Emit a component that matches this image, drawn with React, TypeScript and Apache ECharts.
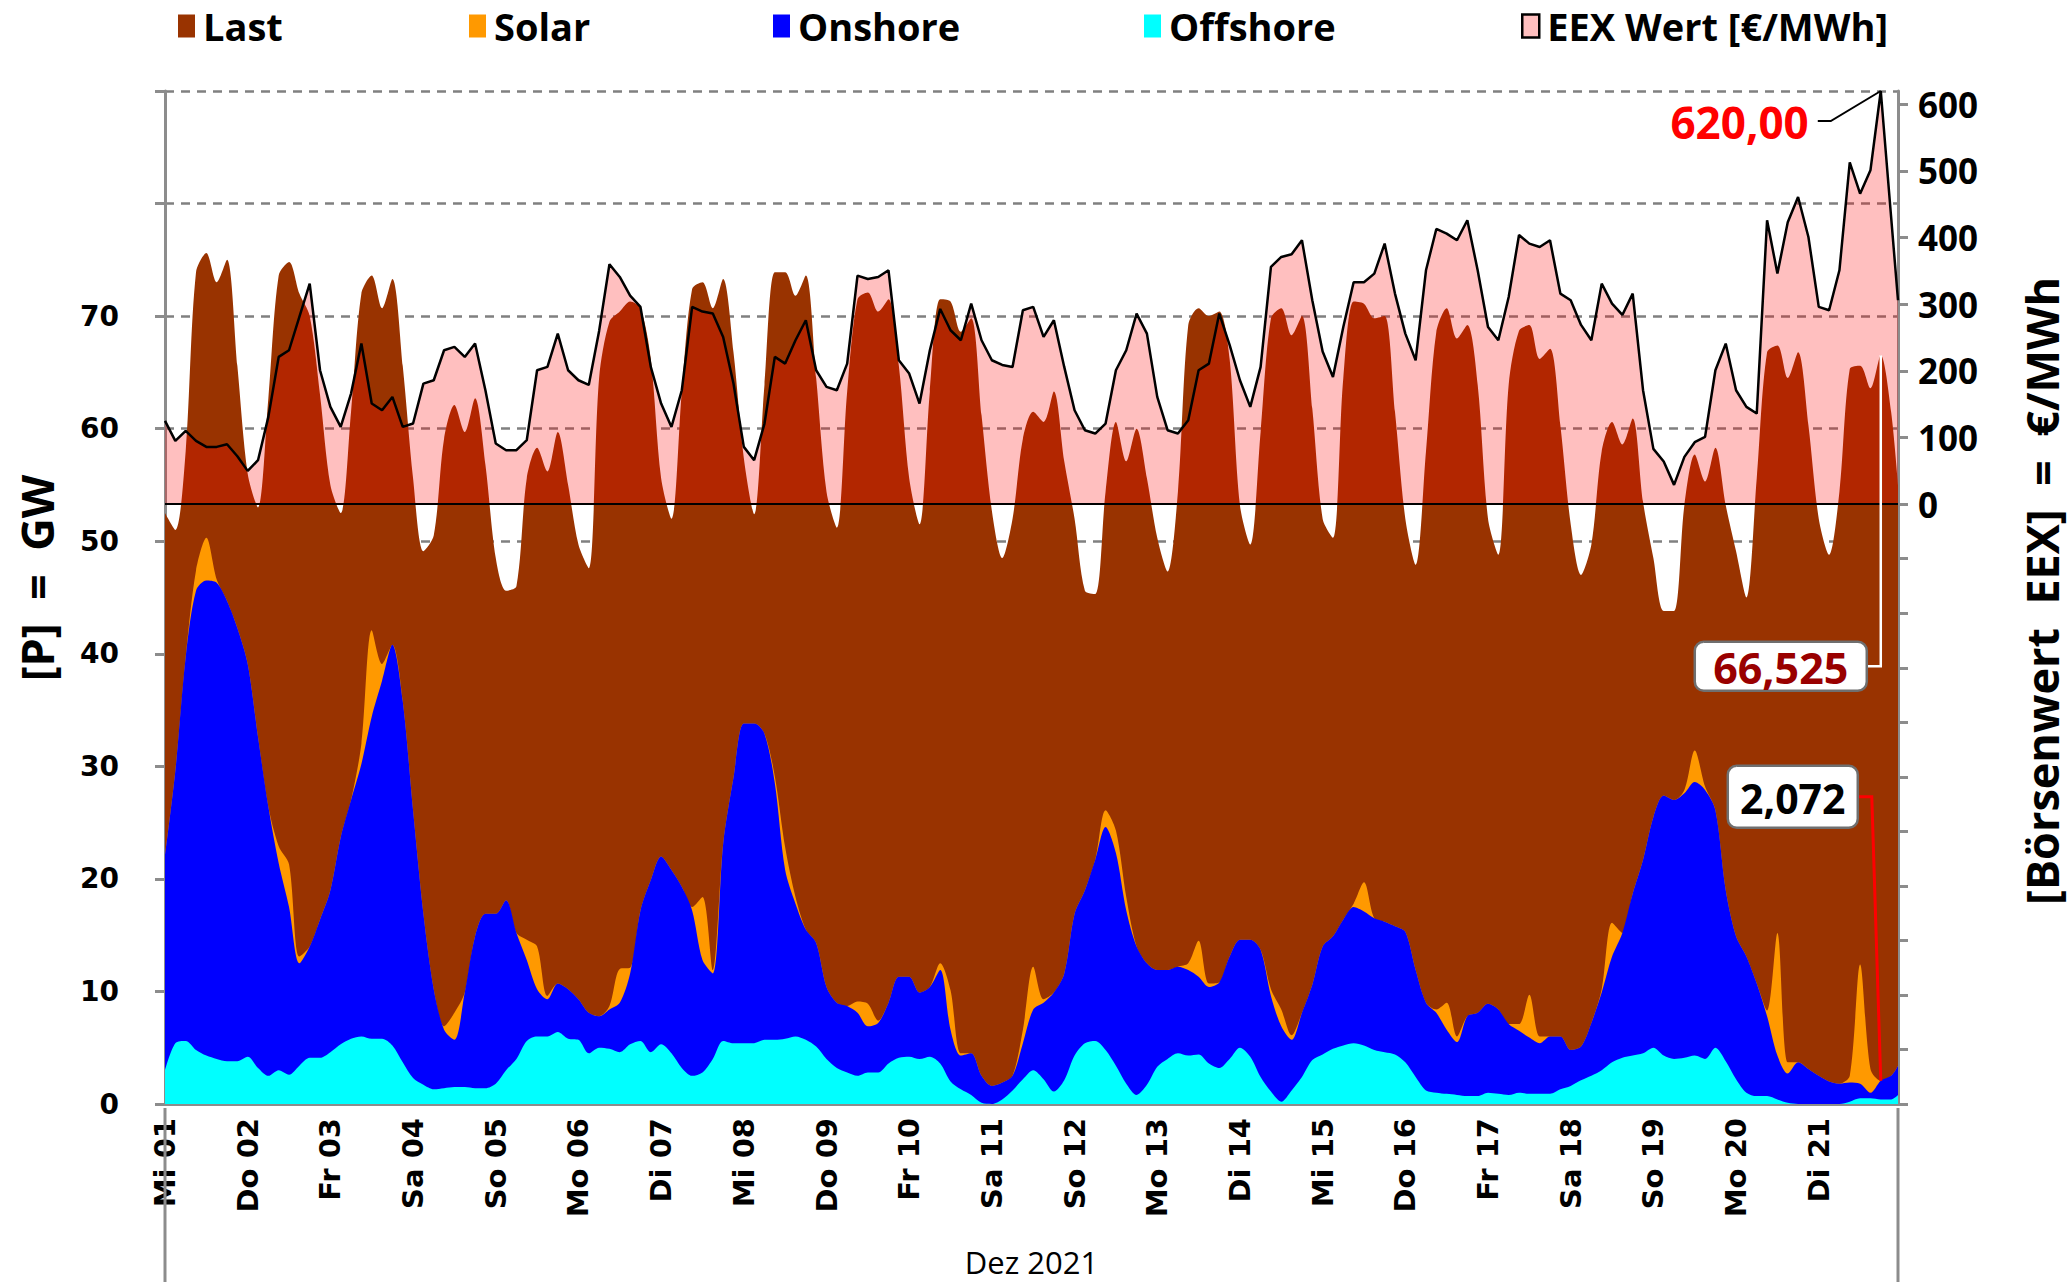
import React, { useEffect, useRef } from 'react';
import * as echarts from 'echarts';

// ---------- data (3-hour steps from Mi 01 00:00, last value = right edge Di 21 ~23:00) ----------
const DAY_LABELS = [
  'Mi 01', 'Do 02', 'Fr 03', 'Sa 04', 'So 05', 'Mo 06', 'Di 07', 'Mi 08', 'Do 09', 'Fr 10', 'Sa 11',
  'So 12', 'Mo 13', 'Di 14', 'Mi 15', 'Do 16', 'Fr 17', 'Sa 18', 'So 19', 'Mo 20', 'Di 21',
];

const LAST_GW = [
  52.5, 51, 58, 73.9, 75.6, 73, 75, 65.6,
  56, 53, 62.7, 73.6, 74.8, 72, 70, 63,
  55, 52.5, 61.5, 72, 73.6, 70.7, 73.3, 65.6,
  55.6, 49.1, 50.5, 59.1, 62.1, 59.7, 62.7, 56.8,
  48.5, 45.6, 46, 55.6, 58.3, 56.2, 59.7, 55,
  49.7, 47.6, 64.5, 69.5, 70.4, 71.3, 70.7, 66.2,
  55.6, 52, 63.3, 72.4, 73, 70.7, 73.3, 66.8,
  57.4, 52.4, 63.9, 73.9, 73.9, 71.8, 73.6, 64.5,
  54.4, 51.2, 63.3, 71.5, 72.1, 70.4, 71.5, 65.6,
  55.6, 51.5, 63.3, 71.5, 71.3, 68.6, 69.8, 61.2,
  52.7, 48.5, 52, 59.1, 61.5, 60.6, 63.3, 57.1,
  52, 45.6, 45.3, 54.4, 60.6, 57.1, 60, 55.6,
  50.3, 47.3, 54.4, 69.2, 70.7, 70, 70.4, 66.2,
  53.2, 49.7, 59.7, 69.8, 70.7, 68.3, 70, 61.8,
  52, 50.3, 64.5, 71.3, 71.1, 69.8, 70, 61.5,
  52, 47.9, 58, 68.6, 70.7, 68, 69.2, 63.9,
  52, 48.8, 63.9, 68.7, 69.2, 66.2, 67.1, 60.3,
  51.5, 47, 49.7, 58, 60.6, 58.6, 60.9, 53.5,
  48.5, 43.8, 43.8, 53.2, 57.7, 55.3, 58.3, 53.2,
  49.1, 45, 55.6, 66.8, 67.4, 64.5, 66.8, 60.3,
  52, 48.8, 54.4, 65.3, 65.6, 63.6, 66.525, 61.5,
  55,
];

const SOLAR_GW = [
  0, 0, 0, 1.8, 3.8, 0.3, 0, 0,
  0, 0, 0, 1.5, 3.8, 0.6, 0, 0,
  0, 0, 0, 1.8, 7.7, 1.5, 0, 0,
  0, 0, 0, 0.3, 2.4, 0, 0, 0,
  0, 0, 0, 1.8, 3.8, 0.3, 0, 0,
  0, 0, 0, 0.3, 3.0, 0.5, 0, 0,
  0, 0, 0, 0.3, 5.6, 0.3, 0, 0,
  0, 0, 0, 0.6, 2.0, 0.6, 0, 0,
  0, 0, 0, 1.0, 2.0, 0.2, 0, 0,
  0, 0, 0, 0.6, 3.5, 0.2, 0, 0,
  0, 0, 0, 1.2, 3.8, 0.3, 0, 0,
  0, 0, 0, 1.5, 2.0, 1.2, 0, 0,
  0, 0, 0, 0.6, 3.2, 0.3, 0, 0,
  0, 0, 0, 0.6, 1.5, 0.4, 0, 0,
  0, 0, 0, 0.3, 2.6, 0, 0, 0,
  0, 0, 0, 0.3, 2.4, 0.5, 0, 0,
  0, 0, 0, 0.6, 3.8, 0.6, 0, 0,
  0, 0, 0, 0.3, 3.0, 0, 0, 0,
  0, 0, 0, 0.3, 2.8, 0.3, 0, 0,
  0, 0, 0, 0.5, 10.9, 1.0, 0, 0,
  0, 0, 0, 0.6, 10.6, 2.1, 0, 0,
  0,
];

const ONSHORE_GW = [
  19.0, 24.2, 34.1, 40.8, 42.2, 42.3, 40.9, 38.5,
  34.9, 29.4, 23.9, 18.4, 14.9, 9.1, 9.9, 12.3,
  14.4, 18.4, 21.2, 24.2, 28.6, 31.8, 35.6, 32.1,
  23.8, 15.2, 8.9, 5.2, 4.2, 8.4, 13.5, 15.5,
  15.1, 15.1, 11.2, 7.2, 4.2, 3.3, 4.3, 4.4,
  3.6, 3.6, 2.8, 3.5, 4.4, 6.3, 11.6, 15.3,
  16.7, 16.3, 16.1, 14.7, 10.0, 7.6, 17.5, 23.6,
  28.4, 28.4, 27.2, 22.8, 15.0, 11.8, 9.8, 9.2,
  6.4, 5.8, 5.9, 5.6, 4.1, 4.4, 5.4, 7.2,
  7.1, 5.9, 6.2, 8.3, 4.6, 3.0, 3.7, 2.4,
  1.6, 1.5, 1.3, 3.2, 5.4, 6.8, 8.8, 9.5,
  12.6, 13.6, 16.1, 19.8, 18.9, 15.4, 13.2, 10.8,
  8.6, 7.9, 7.7, 7.6, 6.9, 6.8, 7.6, 9.1,
  9.6, 10.4, 11.3, 8.5, 6.7, 4.5, 5.7, 6.7,
  9.6, 10.0, 11.2, 12.1, 11.9, 11.7, 11.6, 11.4,
  11.6, 9.5, 7.8, 7.1, 5.7, 4.7, 7.1, 7.4,
  7.9, 7.5, 6.3, 5.5, 5.0, 4.5, 5.1, 4.7,
  3.2, 3.0, 4.7, 6.9, 9.4, 11.1, 14.4, 17.2,
  20.5, 23.1, 23.0, 23.5, 24.3, 23.9, 21.1, 15.2,
  12.7, 12.1, 10.0, 7.1, 3.9, 2.6, 3.7, 3.1,
  2.5, 2.0, 1.8, 1.7, 1.3, 0.5, 1.672, 2.1,
  2.6,
];

const OFFSHORE_GW = [
  3.0, 5.4, 5.6, 4.8, 4.3, 4.0, 3.8, 3.8,
  4.2, 3.2, 2.5, 3.0, 2.6, 3.4, 4.1, 4.1,
  4.6, 5.3, 5.8, 6.0, 5.8, 5.8, 5.2, 3.7,
  2.3, 1.7, 1.3, 1.4, 1.5, 1.5, 1.4, 1.4,
  1.8, 3.0, 4.0, 5.6, 6.0, 6.0, 6.4, 5.8,
  5.7, 4.5, 5.0, 4.9, 4.6, 5.3, 5.6, 4.6,
  5.3, 4.5, 3.2, 2.5, 2.8, 4.0, 5.6, 5.4,
  5.4, 5.4, 5.7, 5.7, 5.8, 6.0, 5.7, 5.1,
  4.0, 3.2, 2.8, 2.5, 2.8, 2.8, 3.6, 4.1,
  4.2, 4.0, 4.2, 3.6, 2.0, 1.3, 0.8, 0.1,
  0.0, 0.4, 1.2, 2.2, 3.0, 2.2, 1.1, 2.1,
  4.3, 5.4, 5.6, 4.8, 3.4, 1.8, 0.8, 1.7,
  3.3, 4.0, 4.5, 4.3, 4.4, 3.6, 3.2, 4.0,
  5.0, 4.2, 2.4, 1.1, 0.2, 1.2, 2.4, 3.9,
  4.4, 4.9, 5.2, 5.4, 5.2, 4.8, 4.6, 4.4,
  3.7, 2.4, 1.2, 1.0, 0.9, 0.8, 0.7, 0.7,
  1.0, 0.9, 0.8, 1.0, 0.9, 0.9, 0.9, 1.3,
  1.6, 2.1, 2.5, 3.0, 3.7, 4.1, 4.3, 4.5,
  5.0, 4.3, 4.0, 4.1, 4.3, 4.0, 5.0, 3.8,
  2.2, 1.0, 0.7, 0.7, 0.4, 0.1, 0.0, 0.0,
  0.0, 0.0, 0.0, 0.2, 0.5, 0.5, 0.4, 0.4,
  0.8,
];

const EEX_PRICE = [
  125, 95, 110, 95, 86, 86, 90, 72,
  50, 66, 131, 221, 231, 281, 331, 201,
  146, 116, 166, 241, 151, 141, 161, 116,
  121, 181, 186, 231, 236, 221, 241, 171,
  91, 81, 81, 96, 201, 206, 256, 201,
  186, 179, 260, 360, 341, 313, 296, 206,
  151, 116, 171, 296, 289, 286, 251, 181,
  86, 66, 121, 221, 211, 246, 276, 201,
  176, 171, 211, 343, 338, 341, 351, 216,
  196, 151, 231, 293, 261, 246, 301, 246,
  216, 209, 206, 291, 296, 251, 276, 206,
  141, 111, 106, 121, 201, 231, 286, 256,
  161, 111, 106, 126, 201, 211, 286, 239,
  186, 146, 206, 356, 371, 375, 396, 306,
  229, 191, 266, 333, 333, 346, 391, 316,
  256, 216, 351, 413, 406, 396, 426, 351,
  266, 246, 311, 404, 391, 386, 396, 316,
  306, 269, 246, 331, 301, 284, 316, 171,
  83, 64, 29, 71, 93, 101, 201, 241,
  171, 146, 136, 426, 346, 423, 461, 401,
  296, 291, 351, 513, 466, 501, 620, 431,
  306,
];

const STEP_HOURS = 3;
const END_HOUR = 503;
const HOURS = LAST_GW.map((_, i) => Math.min(i * STEP_HOURS, END_HOUR));
const HIGHLIGHT_INDEX = 166; // Di 21, ca. 18 Uhr

const LEGEND_NAMES = ['Last', 'Solar', 'Onshore', 'Offshore', 'EEX Wert [€/MWh]'];
const RIGHT_LABEL_VALUES = [0, 100, 200, 300, 400, 500, 600];

// stacked tops (renewables stack: Offshore, Onshore, Solar)
const TOP_OFF = OFFSHORE_GW;
const TOP_ON = OFFSHORE_GW.map((v, i) => v + ONSHORE_GW[i]);
const TOP_SOLAR = TOP_ON.map((v, i) => v + SOLAR_GW[i]);

// ---------- styles ----------
const FONT_TICK = '"DejaVu Sans", Verdana, sans-serif';
const FONT_TEXT = '"Open Sans", "Noto Sans", sans-serif';
const AXIS_GRAY = '#8c8c8c';
const C_LAST = '#993300';
const C_SOLAR = '#FF9900';
const C_ON = '#0000FF';
const C_OFF = '#00FFFF';

const GRID = { left: 165, right: 173, top: 91, bottom: 174 };
const W = 2071;
const H = 1282;
const LEGEND_LEFT = [178, 469, 773, 1144, 1521];

const pairs = (arr: number[]) => arr.map((v, i) => [HOURS[i], v]);

function buildOption(): any {
  const belowZeroTicks = Array.from({ length: 11 }, (_, k) => -900 + (900 / 11) * k);
  const areaBase = (name: string, color: string, data: number[]) => ({
    name,
    type: 'line',
    data: pairs(data),
    color,
    symbol: 'none',
    showSymbol: false,
    smooth: 0.3,
    lineStyle: { width: 0, color },
    areaStyle: { color, opacity: 1 },
    emphasis: { disabled: true },
  });

  return {
    animation: false,
    backgroundColor: '#ffffff',
    grid: { ...GRID, containLabel: false },
    legend: LEGEND_NAMES.map((name, i) => ({
      data: [
        i === 4
          ? { name, itemStyle: { color: '#FFBFBF', borderColor: '#000', borderWidth: 2.5 } }
          : name,
      ],
      left: LEGEND_LEFT[i],
      top: 7,
      icon: 'rect',
      itemWidth: 17,
      itemHeight: 23,
      padding: 0,
      selectedMode: false,
      itemStyle: { borderWidth: 0 },
      textStyle: { fontFamily: FONT_TEXT, fontWeight: 'bold', fontSize: 38, color: '#000', padding: [0, 0, 0, 3] },
    })),
    xAxis: {
      type: 'value',
      min: 0,
      max: END_HOUR,
      interval: 24,
      axisLine: { show: true, onZero: false, lineStyle: { color: AXIS_GRAY, width: 3 } },
      axisTick: { show: false },
      splitLine: { show: false },
      axisLabel: {
        rotate: 90,
        margin: 14,
        fontFamily: FONT_TICK,
        fontWeight: 'bold',
        fontSize: 29,
        color: '#000',
        showMaxLabel: false,
        formatter: (v: number) => (v % 24 === 0 && v / 24 < DAY_LABELS.length ? DAY_LABELS[v / 24] : ''),
      },
      name: 'Dez 2021',
      nameLocation: 'middle',
      nameGap: 142,
      nameTextStyle: { fontFamily: FONT_TEXT, fontSize: 31, color: '#000', verticalAlign: 'top' },
    },
    yAxis: [
      {
        type: 'value',
        min: 0,
        max: 90,
        interval: 10,
        position: 'left',
        axisLine: { show: true, lineStyle: { color: AXIS_GRAY, width: 3 } },
        axisTick: { show: true, length: 10, lineStyle: { color: AXIS_GRAY, width: 3 } },
        axisLabel: {
          margin: 46,
          fontFamily: FONT_TICK,
          fontWeight: 'bold',
          fontSize: 28,
          color: '#000',
          formatter: (v: number) => (v <= 70 ? String(v) : ''),
        },
        splitLine: { show: true, lineStyle: { color: '#808080', width: 2.5, type: [9, 7] } },
      },
      {
        type: 'value',
        min: -900,
        max: 620,
        interval: 100,
        position: 'right',
        axisLine: { show: true, lineStyle: { color: AXIS_GRAY, width: 3 } },
        axisTick: {
          show: true,
          length: 10,
          customValues: [...belowZeroTicks, ...RIGHT_LABEL_VALUES],
          lineStyle: { color: AXIS_GRAY, width: 3 },
        },
        axisLabel: {
          customValues: RIGHT_LABEL_VALUES,
          margin: 20,
          fontFamily: FONT_TEXT,
          fontWeight: 'bold',
          fontSize: 35,
          color: '#000',
          formatter: (v: number) => (v >= 0 && v <= 600 ? String(v) : ''),
        },
        splitLine: { show: false },
      },
    ],
    series: [
      areaBase('Last', C_LAST, LAST_GW),
      areaBase('Solar', C_SOLAR, TOP_SOLAR),
      areaBase('Onshore', C_ON, TOP_ON),
      areaBase('Offshore', C_OFF, TOP_OFF),
      {
        name: 'EEX Wert [€/MWh]',
        type: 'line',
        yAxisIndex: 1,
        data: pairs(EEX_PRICE),
        color: '#000',
        symbol: 'none',
        showSymbol: false,
        lineStyle: { color: '#000', width: 2.5 },
        areaStyle: { color: 'rgba(255,0,0,0.25)', opacity: 1, origin: 'auto' },
        emphasis: { disabled: true },
        markLine: {
          silent: true,
          symbol: ['none', 'none'],
          label: { show: false },
          lineStyle: { color: '#000', width: 2, type: 'solid' },
          data: [{ yAxis: 0 }],
        },
      },
    ],
  };
}

function textEl(text: string, x: number, y: number, font: string, fill: string, align: string, rotation = 0) {
  return {
    type: 'text',
    x,
    y,
    rotation,
    z: 100,
    style: {
      text,
      font,
      fill,
      align,
      verticalAlign: 'middle',
      textAlign: align,
      textVerticalAlign: 'middle',
    },
  };
}

export default function App() {
  const ref = useRef<HTMLDivElement>(null);

  useEffect(() => {
    const el = ref.current;
    if (!el) return;
    const chart = echarts.init(el, null, { renderer: 'svg' });
    chart.setOption(buildOption());

    const hi = HIGHLIGHT_INDEX;
    const P = chart.convertToPixel({ seriesIndex: 4 }, [HOURS[hi], EEX_PRICE[hi]]) as number[];
    const L = chart.convertToPixel({ seriesIndex: 0 }, [HOURS[hi], LAST_GW[hi]]) as number[];
    const renew = TOP_SOLAR[hi];
    const Q = chart.convertToPixel({ seriesIndex: 0 }, [HOURS[hi], renew]) as number[];

    const fmt = (v: number, d: number) => v.toFixed(d).replace('.', ',');
    const plotBottom = H - GRID.bottom;
    const plotLeft = GRID.left;
    const plotRight = W - GRID.right;

    const lastBoxW = 172;
    const lastBoxH = 49;
    const lastCy = L[1] + 311;
    const renBoxW = 130;
    const renBoxH = 62;
    const renCy = Q[1] - 284;

    const graphic: any[] = [
      textEl('[P]  =  GW', 36, 578, `bold 45px ${FONT_TEXT}`, '#000', 'center', Math.PI / 2),
      textEl('[Börsenwert  EEX]  =  €/MWh', 2041, 591, `bold 45px ${FONT_TEXT}`, '#000', 'center', Math.PI / 2),
      { type: 'line', z: 100, shape: { x1: plotLeft, y1: plotBottom, x2: plotLeft, y2: H }, style: { stroke: AXIS_GRAY, lineWidth: 3 } },
      { type: 'line', z: 100, shape: { x1: plotRight, y1: plotBottom, x2: plotRight, y2: H }, style: { stroke: AXIS_GRAY, lineWidth: 3 } },
      {
        type: 'polyline',
        z: 100,
        shape: { points: [[P[0] - 63, P[1] + 30], [P[0] - 50, P[1] + 30], [P[0], P[1]]] },
        style: { stroke: '#000', lineWidth: 2, fill: null },
      },
      textEl(fmt(EEX_PRICE[hi], 2), P[0] - 72, P[1] + 31, `bold 44px ${FONT_TEXT}`, '#FF0000', 'right'),
      {
        type: 'polyline',
        z: 100,
        shape: { points: [[L[0] - 14, lastCy], [L[0], lastCy], [L[0], L[1]]] },
        style: { stroke: '#ffffff', lineWidth: 2.5, fill: null },
      },
      {
        type: 'rect',
        z: 100,
        shape: { x: L[0] - 14 - lastBoxW, y: lastCy - lastBoxH / 2, width: lastBoxW, height: lastBoxH, r: 9 },
        style: { fill: '#ffffff', stroke: '#6f6f6f', lineWidth: 2.5 },
      },
      textEl(fmt(LAST_GW[hi], 3), L[0] - 14 - lastBoxW / 2, lastCy + 1, `bold 43px ${FONT_TEXT}`, '#990000', 'center'),
      {
        type: 'polyline',
        z: 100,
        shape: { points: [[Q[0] - 23, renCy], [Q[0] - 9, renCy], [Q[0], Q[1]]] },
        style: { stroke: '#FF0000', lineWidth: 3, fill: null },
      },
      {
        type: 'rect',
        z: 100,
        shape: { x: Q[0] - 23 - renBoxW, y: renCy - renBoxH / 2, width: renBoxW, height: renBoxH, r: 9 },
        style: { fill: '#ffffff', stroke: '#6f6f6f', lineWidth: 2.5 },
      },
      textEl(fmt(renew, 3), Q[0] - 23 - renBoxW / 2, renCy + 1, `bold 41px ${FONT_TEXT}`, '#000', 'center'),
    ];

    chart.setOption({ graphic });

    return () => {
      chart.dispose();
    };
  }, []);

  return (
    <div
      ref={ref}
      style={{ position: 'fixed', left: 0, top: 0, width: `${W}px`, height: `${H}px`, background: '#fff' }}
    />
  );
}
